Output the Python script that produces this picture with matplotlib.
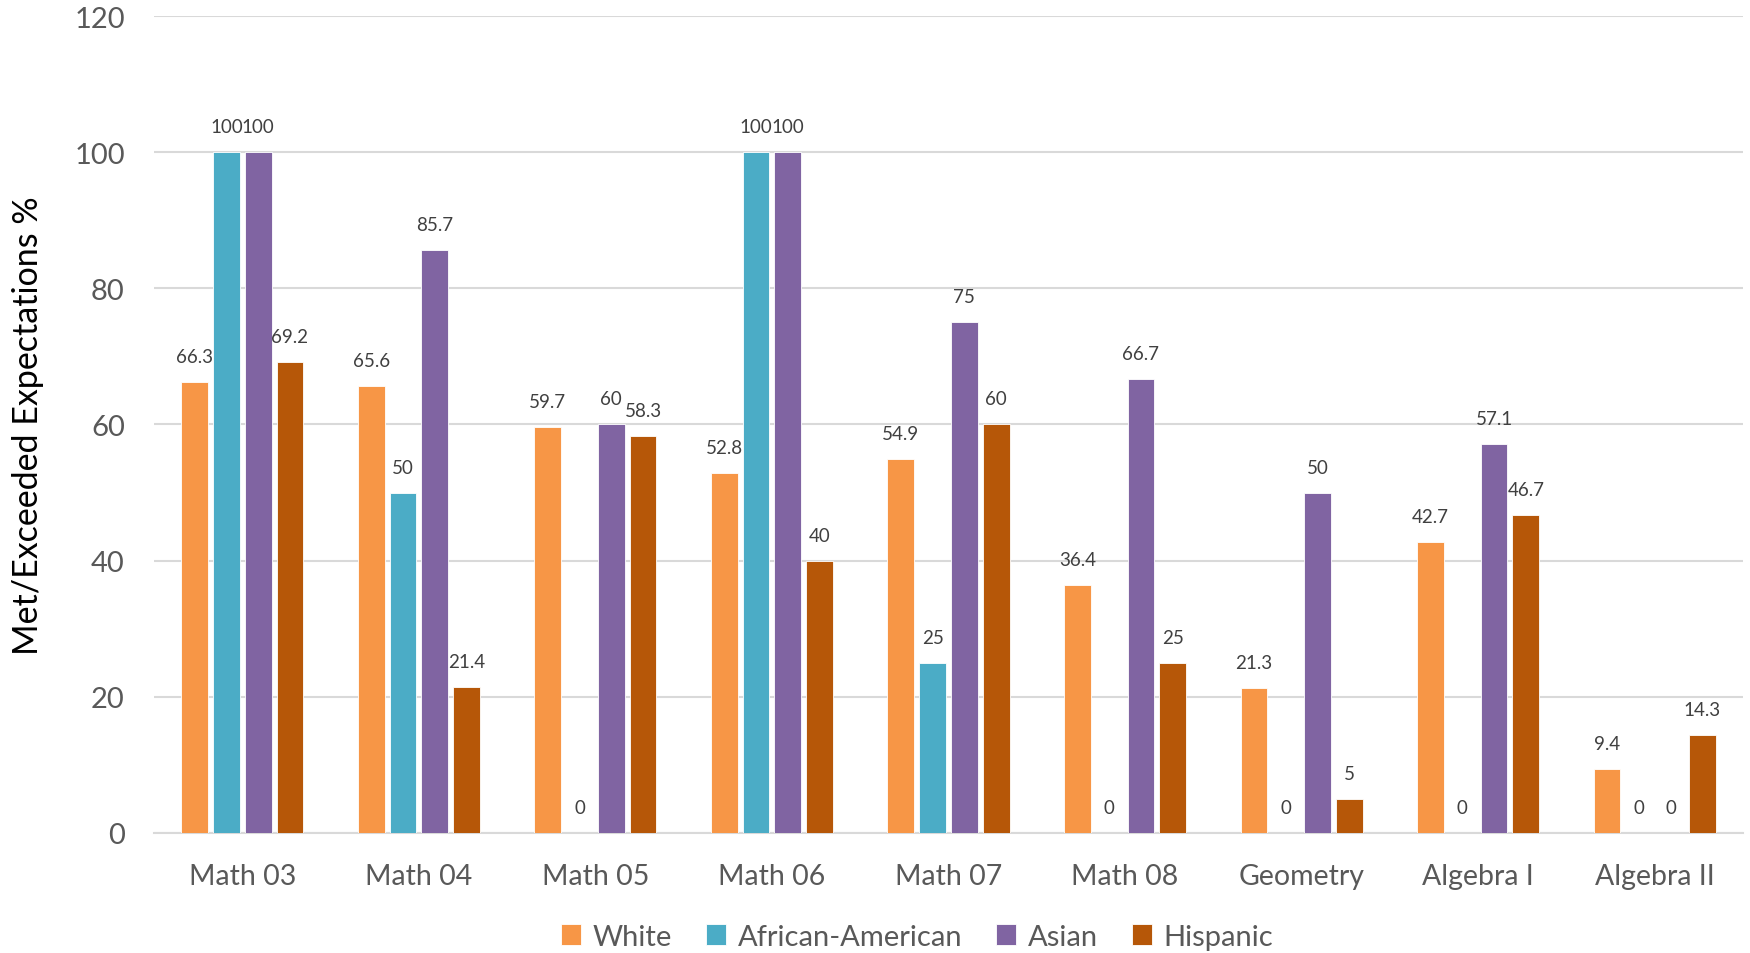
import numpy as np
import matplotlib.pyplot as plt

plt.rcParams['font.family'] = ['Lato', 'DejaVu Sans']

# -----------------------------
# Data
# -----------------------------
subjects = ["Math 03", "Math 04", "Math 05", "Math 06", "Math 07",
            "Math 08", "Geometry", "Algebra I", "Algebra II"]
white = [66.3, 65.6, 59.7, 52.8, 54.9, 36.4, 21.3, 42.7, 9.4]
african_american = [100, 50, 0, 100, 25, 0, 0, 0, 0]
asian = [100, 85.7, 60, 100, 75, 66.7, 50, 57.1, 0]
hispanic = [69.2, 21.4, 58.3, 40, 60, 25, 5, 46.7, 14.3]

series = [("White", white, "#F79646"),
          ("African-American", african_american, "#4BACC6"),
          ("Asian", asian, "#8064A2"),
          ("Hispanic", hispanic, "#B65708")]

# -----------------------------
# Plot
# -----------------------------
fig = plt.figure(figsize=(17.5, 9.54), dpi=100)
ax = fig.add_axes([0.088, 0.126, 0.908, 0.856])

x = np.arange(len(subjects))
pitch = 0.18
width = 0.152
text_col = "#595959"

for i, (name, vals, col) in enumerate(series):
    pos = x + (i - 1.5) * pitch
    ax.bar(pos, vals, width, color=col, label=name,
           edgecolor="white", linewidth=0.6, zorder=3)
    for px, v in zip(pos, vals):
        ax.text(px, v + 2.5, f"{v:g}", ha="center", va="bottom",
                fontsize=13.5, color="#404040")

ax.set_ylim(0, 120)
ax.set_yticks(range(0, 121, 20))
ax.set_xlim(-0.5, len(subjects) - 0.5)
ax.set_xticks(x)
ax.set_xticklabels(subjects)
ax.tick_params(axis="x", length=0, labelsize=20.5, colors=text_col, pad=22)
ax.tick_params(axis="y", length=0, labelsize=21, colors=text_col, pad=21)
ax.grid(axis="y", color="#D9D9D9", linewidth=1.5, zorder=0)
for s in ["top", "right", "left"]:
    ax.spines[s].set_visible(False)
ax.spines["bottom"].set_color("#D9D9D9")
ax.spines["bottom"].set_linewidth(1.5)

ax.set_ylabel("Met/Exceeded Expectations %", fontsize=24.5, color="black",
              labelpad=22)

fig.legend(*ax.get_legend_handles_labels(), loc="center",
           bbox_to_anchor=(0.524, 0.017), ncol=4,
           frameon=False, fontsize=21, handlelength=0.7, handleheight=0.7,
           columnspacing=1.15, handletextpad=0.4, labelcolor=text_col)

fig.savefig("out.png")
